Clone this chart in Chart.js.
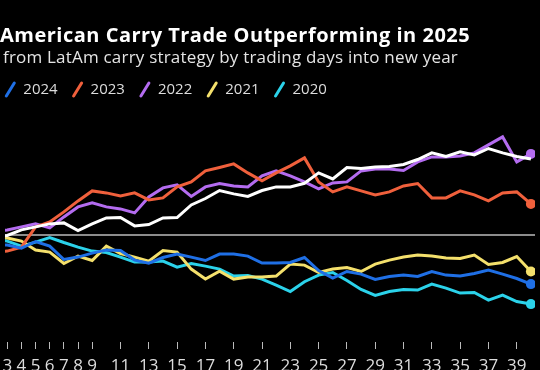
<!DOCTYPE html>
<html>
<head>
<meta charset="utf-8">
<script src="https://cdn.jsdelivr.net/npm/chart.js@4.4.1/dist/chart.umd.min.js"></script>
<style>
  html, body { margin: 0; padding: 0; background: #000; overflow: hidden; }
  #wrap { position: relative; width: 540px; height: 400px; }
</style>
</head>
<body>
<div id="wrap"><canvas id="chart" width="540" height="400"></canvas></div>
<script>
'use strict';

const titleText = 'American Carry Trade Outperforming in 2025';
const subtitleText = 'from LatAm carry strategy by trading days into new year';

// trading days into the year (x axis)
const tradingDays = [1, 2, 3, 4, 5, 6, 7, 8, 9, 10, 11, 12, 13, 14, 15, 16, 17, 18, 19, 20,
  21, 22, 23, 24, 25, 26, 27, 28, 29, 30, 31, 32, 33, 34, 35, 36, 37, 38, 39, 40];
const tickDays = [3, 4, 5, 6, 7, 8, 9, 11, 13, 15, 17, 19, 21, 23, 25, 27, 29, 31, 33, 35, 37, 39];

const seriesNames = ['2025', '2024', '2023', '2022', '2021', '2020'];
const seriesColors = ['#ffffff', '#1f6fe5', '#f0603c', '#b46cf0', '#f4e06c', '#2bd2ea'];

// cumulative return, %
const returns2025 = [0, -0.1, -0.05, 0.23, 0.38, 0.53, 0.58, 0.2, 0.53, 0.83, 0.85, 0.43, 0.5, 0.83, 0.85, 1.48, 1.8, 2.2, 2.03, 1.9,
  2.2, 2.38, 2.38, 2.56, 3.08, 2.78, 3.35, 3.3, 3.38, 3.4, 3.5, 3.75, 4.08, 3.9, 4.13, 3.98, 4.3, 4.08, 3.9, 3.78];
const returns2024 = [0, -0.48, -0.53, -0.68, -0.35, -0.58, -1.25, -1.13, -0.93, -0.78, -0.8, -1.28, -1.43, -1.15, -0.98, -1.13, -1.3, -0.98, -0.98, -1.08,
  -1.43, -1.43, -1.4, -1.15, -1.8, -2.18, -1.85, -1.98, -2.25, -2.1, -2.03, -2.1, -1.85, -2.03, -2.08, -1.95, -1.78, -1.98, -2.2, -2.48];
const returns2023 = [0, -0.85, -0.83, -0.63, 0.38, 0.63, 1.13, 1.68, 2.18, 2.08, 1.93, 2.08, 1.73, 1.83, 2.38, 2.63, 3.18, 3.35, 3.53, 3.08,
  2.68, 3.08, 3.43, 3.83, 2.63, 2.13, 2.38, 2.18, 1.98, 2.13, 2.43, 2.55, 1.83, 1.83, 2.18, 1.98, 1.68, 2.08, 2.13, 1.53];
const returns2022 = [0, 0.15, 0.23, 0.38, 0.53, 0.33, 0.88, 1.38, 1.58, 1.38, 1.28, 1.08, 1.88, 2.33, 2.48, 1.9, 2.38, 2.55, 2.43, 2.38,
  2.93, 3.18, 2.93, 2.63, 2.28, 2.58, 2.63, 3.18, 3.28, 3.28, 3.2, 3.63, 3.88, 3.88, 3.93, 4.08, 4.48, 4.88, 3.63, 4.03];
const returns2021 = [0, -0.08, -0.18, -0.33, -0.78, -0.88, -1.45, -1.08, -1.3, -0.58, -0.95, -1.13, -1.33, -0.8, -0.88, -1.73, -2.23, -1.83, -2.23, -2.13,
  -2.13, -2.08, -1.48, -1.53, -1.9, -1.73, -1.65, -1.85, -1.48, -1.28, -1.13, -1.03, -1.08, -1.18, -1.2, -1.03, -1.5, -1.4, -1.1, -1.85];
const returns2020 = [0, -0.18, -0.33, -0.58, -0.38, -0.15, -0.4, -0.63, -0.83, -0.9, -1.13, -1.38, -1.38, -1.33, -1.63, -1.45, -1.58, -1.73, -2.08, -2.05,
  -2.23, -2.53, -2.85, -2.36, -2.03, -1.9, -2.3, -2.75, -3.05, -2.85, -2.75, -2.78, -2.48, -2.68, -2.93, -2.9, -3.28, -3.03, -3.35, -3.48];

const seriesValues = [returns2025, returns2024, returns2023, returns2022, returns2021, returns2020];

let datasets = [];
for (let i = 0; i < seriesNames.length; i++) {
  let lastIndex = seriesValues[i].length - 1;
  let showDot = i !== 0;
  datasets.push({
    label: seriesNames[i],
    data: seriesValues[i],
    borderColor: seriesColors[i],
    backgroundColor: seriesColors[i],
    borderWidth: 3,
    tension: 0,
    pointRadius: ctx => (showDot && ctx.dataIndex === lastIndex ? 5 : 0),
    pointBorderWidth: 0,
    pointHoverRadius: 0
  });
}

// title, subtitle and slash-style legend, drawn at the top
const headerPlugin = {
  id: 'header',
  afterDraw(chart) {
    const ctx = chart.ctx;
    ctx.save();
    ctx.textBaseline = 'alphabetic';
    ctx.fillStyle = '#ffffff';
    ctx.font = 'bold 20px "Open Sans"';
    ctx.letterSpacing = '0.5px';
    ctx.fillText(titleText, 0, 42);
    ctx.fillStyle = '#e4e4e4';
    ctx.font = '17px "Open Sans"';
    ctx.letterSpacing = '0.2px';
    ctx.fillText(subtitleText, 3, 63);

    ctx.font = '15px "Open Sans"';
    ctx.letterSpacing = '0px';
    ctx.textBaseline = 'middle';
    ctx.lineCap = 'round';
    let x = -62;
    chart.data.datasets.forEach(ds => {
      ctx.strokeStyle = ds.borderColor;
      ctx.lineWidth = 3;
      ctx.beginPath();
      ctx.moveTo(x + 1, 96);
      ctx.lineTo(x + 9, 83);
      ctx.stroke();
      ctx.fillStyle = '#dddddd';
      ctx.fillText(ds.label, x + 18, 90);
      x += 18 + ctx.measureText(ds.label).width + 15;
    });
    ctx.restore();
  }
};

const ctx = document.getElementById('chart').getContext('2d');
new Chart(ctx, {
  type: 'line',
  data: { labels: tradingDays, datasets: datasets },
  options: {
    responsive: false,
    animation: false,
    layout: { padding: { top: 110, left: 0, right: 0, bottom: 0 } },
    plugins: { legend: { display: false }, tooltip: { enabled: false } },
    scales: {
      x: {
        type: 'linear',
        min: 2.8405,
        max: 40.289,
        afterBuildTicks: s => { s.ticks = tickDays.map(v => ({ value: v })); },
        afterFit: s => { s.height = 58; s.paddingLeft = 0; s.paddingRight = 0; },
        border: { display: false },
        grid: { drawOnChartArea: false, drawTicks: true, tickLength: 7, color: '#bbbbbb', lineWidth: 1 },
        ticks: { autoSkip: false, maxRotation: 0, color: '#dddddd', padding: 7, font: { family: 'Open Sans', size: 17 } }
      },
      y: {
        min: -5.375,
        max: 6.225,
        afterBuildTicks: s => { s.ticks = [{ value: 0 }]; },
        afterFit: s => { s.width = 0; },
        border: { display: false },
        grid: { drawTicks: false, color: '#8c8c8c', lineWidth: 2 },
        ticks: { display: false }
      }
    }
  },
  plugins: [headerPlugin]
});
</script>
</body>
</html>
